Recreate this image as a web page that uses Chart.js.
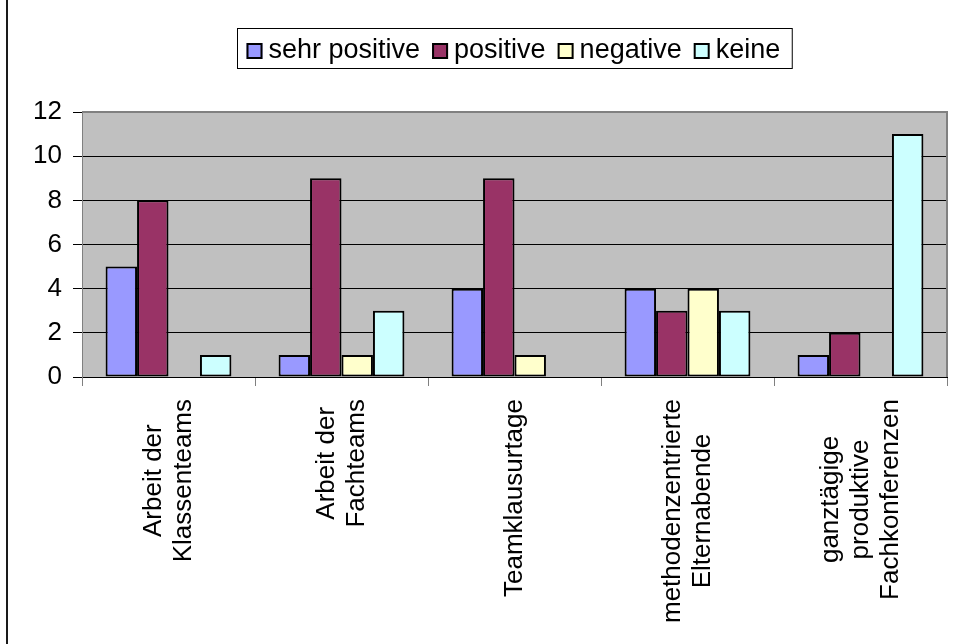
<!DOCTYPE html>
<html>
<head>
<meta charset="utf-8">
<script src="https://cdn.jsdelivr.net/npm/chart.js@4/dist/chart.umd.min.js"></script>
<style>
  html, body { margin: 0; padding: 0; background: #ffffff; }
  #wrap { width: 954px; height: 644px; position: relative; }
</style>
</head>
<body>
<div id="wrap"><canvas id="c" width="954" height="644"></canvas></div>
<script>
// Category labels (each entry is the list of lines shown under the axis)
const categories = [
  ["Arbeit der", "Klassenteams"],
  ["Arbeit der", "Fachteams"],
  ["Teamklausurtage"],
  ["methodenzentrierte", "Elternabende"],
  ["ganztägige", "produktive", "Fachkonferenzen"]
];
const seriesNames = ["sehr positive", "positive", "negative", "keine"];
const sehrPositive = [5, 1, 4, 4, 1];
const positive     = [8, 9, 9, 3, 2];
const negative     = [0, 1, 1, 4, 0];
const keine        = [1, 3, 0, 3, 11];
const yTicks = [0, 2, 4, 6, 8, 10, 12];
const seriesColors = ["#9999FF", "#993366", "#FFFFCC", "#CCFFFF"];

const FONT_FAMILY = '"Liberation Sans", Arial, sans-serif';

const seriesValues = [sehrPositive, positive, negative, keine];

const datasets = seriesNames.map((name, i) => ({
  label: name,
  data: seriesValues[i],
  backgroundColor: seriesColors[i],
  borderColor: "#000000",
  borderWidth: ctx => (ctx.raw === 0 ? 0 : 2),
  borderSkipped: false
}));

// Grey plot background, outer frame line and plot border
const framePlugin = {
  id: "frame",
  beforeDraw(chart) {
    const { ctx, chartArea: a } = chart;
    ctx.save();
    ctx.fillStyle = "#ffffff";
    ctx.fillRect(0, 0, chart.width, chart.height);
    ctx.fillStyle = "#C0C0C0";
    ctx.fillRect(a.left, a.top, a.right - a.left, a.bottom - a.top);
    ctx.restore();
  },
  afterDraw(chart) {
    const { ctx, chartArea: a } = chart;
    ctx.save();
    ctx.strokeStyle = "#808080";
    ctx.lineWidth = 2;
    ctx.beginPath();
    ctx.moveTo(a.left, a.top);
    ctx.lineTo(a.right, a.top);
    ctx.lineTo(a.right, a.bottom);
    ctx.stroke();
    ctx.fillStyle = "#1a1a1a";
    ctx.fillRect(6, 0, 2, chart.height);
    ctx.restore();
  }
};

// Rotated category labels: block starts just below the axis, lines centred
const categoryLabelPlugin = {
  id: "categoryLabels",
  afterDraw(chart) {
    const { ctx } = chart;
    const xs = chart.scales.x;
    const lh = 30;
    ctx.save();
    ctx.font = "26px " + FONT_FAMILY;
    ctx.fillStyle = "#000000";
    ctx.textAlign = "center";
    ctx.textBaseline = "middle";
    chart.data.labels.forEach((lines, i) => {
      const cx = xs.getPixelForTick(i);
      const w = Math.max(...lines.map(l => ctx.measureText(l).width));
      const top = xs.top + 22;
      ctx.save();
      ctx.translate(cx, top + w / 2);
      ctx.rotate(-Math.PI / 2);
      const n = lines.length;
      lines.forEach((l, j) => ctx.fillText(l, 0, (j - (n - 1) / 2) * lh));
      ctx.restore();
    });
    ctx.restore();
  }
};

// Boxed legend centred over the plot area
const boxedLegendPlugin = {
  id: "boxedLegend",
  afterDraw(chart) {
    const { ctx, chartArea: a } = chart;
    const sw = 16, gapText = 6, gapItem = 12, padL = 9, padR = 12;
    ctx.save();
    ctx.font = "27px " + FONT_FAMILY;
    const items = chart.data.datasets.map(d => ({
      label: d.label, color: d.backgroundColor, w: ctx.measureText(d.label).width
    }));
    let total = padL + padR + gapItem * (items.length - 1);
    items.forEach(it => { total += sw + gapText + it.w; });
    const boxLeft = Math.round((a.left + a.right) / 2 - total / 2) + 0.5;
    const boxTop = 28.5, boxH = 40;
    ctx.strokeStyle = "#000000";
    ctx.lineWidth = 1;
    ctx.strokeRect(boxLeft, boxTop, total, boxH);
    let x = boxLeft + padL;
    ctx.textBaseline = "alphabetic";
    ctx.textAlign = "left";
    items.forEach(it => {
      ctx.fillStyle = it.color;
      ctx.fillRect(x, 43, sw, sw);
      ctx.lineWidth = 2;
      ctx.strokeStyle = "#000000";
      ctx.strokeRect(x + 1, 44, sw - 2, sw - 2);
      ctx.fillStyle = "#000000";
      ctx.fillText(it.label, x + sw + gapText, 58);
      x += sw + gapText + it.w + gapItem;
    });
    ctx.restore();
  }
};

new Chart(document.getElementById("c"), {
  type: "bar",
  data: { labels: categories, datasets },
  plugins: [framePlugin, categoryLabelPlugin, boxedLegendPlugin],
  options: {
    responsive: false,
    animation: false,
    devicePixelRatio: 1,
    layout: { padding: { left: 8, top: 112, right: 7, bottom: 0 } },
    datasets: { bar: { categoryPercentage: 4 / 5.5, barPercentage: 1 } },
    plugins: { legend: { display: false }, tooltip: { enabled: false } },
    scales: {
      x: {
        afterFit: s => { s.height = 267; },
        ticks: { display: false },
        grid: {
          offset: true,
          drawOnChartArea: false,
          drawTicks: true,
          tickLength: 9,
          tickColor: "#808080",
          color: "#808080"
        },
        border: { color: "#000000", width: 1 }
      },
      y: {
        min: 0,
        max: 12,
        afterFit: s => { s.width = 74; },
        afterBuildTicks: s => { s.ticks = yTicks.map(v => ({ value: v })); },
        ticks: {
          color: "#000000",
          padding: 11,
          font: { family: FONT_FAMILY, size: 26 }
        },
        grid: {
          color: c => (c.tick && c.tick.value === 12 ? "rgba(0,0,0,0)" : "#000000"),
          tickColor: "#000000",
          tickLength: 9,
          lineWidth: 1
        },
        border: { color: "#808080", width: 1 }
      }
    }
  }
});
</script>
</body>
</html>
